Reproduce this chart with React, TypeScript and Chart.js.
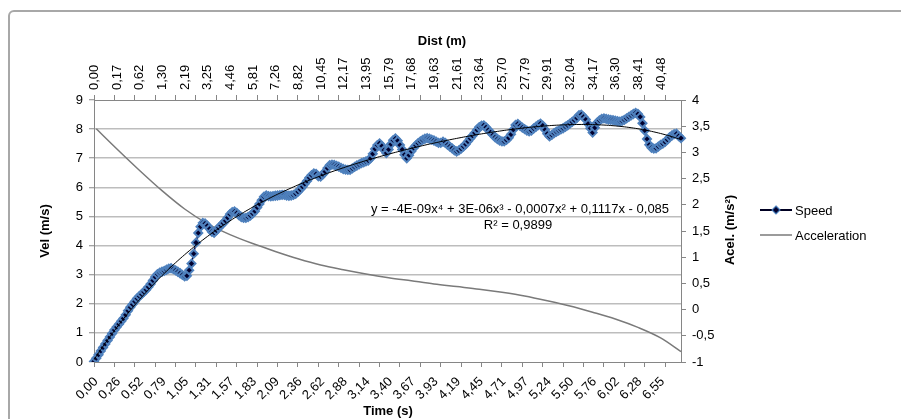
import React, { useEffect, useRef } from 'react';
import { Chart, registerables } from 'chart.js';

Chart.register(...registerables);

// ---- Data ----
const timeTicks = ['0,00','0,26','0,52','0,79','1,05','1,31','1,57','1,83','2,09','2,36','2,62','2,88','3,14','3,40','3,67','3,93','4,19','4,45','4,71','4,97','5,24','5,50','5,76','6,02','6,28','6,55'];
const distTicks = ['0,00','0,17','0,62','1,30','2,19','3,25','4,46','5,81','7,26','8,82','10,45','12,17','13,95','15,79','17,68','19,63','21,61','23,64','25,70','27,79','29,91','32,04','34,17','36,30','38,41','40,48'];

const speed = [
  0.02, 0.13, 0.25, 0.38, 0.5, 0.62, 0.74, 0.86, 0.98, 1.1,
  1.2, 1.3, 1.4, 1.5, 1.62, 1.76, 1.88, 1.98, 2.08, 2.18,
  2.26, 2.33, 2.41, 2.48, 2.58, 2.68, 2.8, 2.92, 3.02, 3.07,
  3.1, 3.13, 3.17, 3.21, 3.22, 3.19, 3.15, 3.1, 3.05, 2.99,
  2.94, 2.96, 3.15, 3.38, 3.72, 4.1, 4.43, 4.65, 4.78, 4.76,
  4.68, 4.58, 4.47, 4.44, 4.52, 4.61, 4.69, 4.77, 4.85, 4.96,
  5.08, 5.15, 5.17, 5.12, 5.04, 4.98, 4.95, 4.95, 4.98, 5.03,
  5.1, 5.18, 5.31, 5.43, 5.56, 5.68, 5.72, 5.7, 5.69, 5.7,
  5.71, 5.72, 5.73, 5.74, 5.74, 5.72, 5.71, 5.72, 5.74, 5.78,
  5.85, 5.93, 6.02, 6.12, 6.22, 6.33, 6.42, 6.48, 6.46, 6.38,
  6.37, 6.45, 6.54, 6.66, 6.76, 6.78, 6.77, 6.74, 6.71, 6.67,
  6.63, 6.61, 6.6, 6.6, 6.65, 6.7, 6.75, 6.79, 6.83, 6.86,
  6.89, 6.92, 7.0, 7.15, 7.32, 7.45, 7.51, 7.42, 7.28, 7.18,
  7.3, 7.48, 7.62, 7.68, 7.6, 7.45, 7.3, 7.12, 7.0, 7.1,
  7.24, 7.35, 7.44, 7.52, 7.58, 7.63, 7.67, 7.69, 7.67, 7.64,
  7.61, 7.57, 7.53, 7.53, 7.57, 7.53, 7.46, 7.4, 7.34, 7.27,
  7.23, 7.27, 7.33, 7.4, 7.48, 7.58, 7.68, 7.77, 7.87, 7.97,
  8.07, 8.12, 8.13, 8.06, 7.97, 7.89, 7.8, 7.72, 7.66, 7.61,
  7.58, 7.58, 7.63, 7.7, 7.82, 7.98, 8.14, 8.18, 8.11, 8.05,
  8.0, 7.95, 7.92, 7.95, 8.02, 8.08, 8.14, 8.19, 8.12, 7.98,
  7.84, 7.75, 7.8, 7.86, 7.91, 7.95, 7.99, 8.03, 8.08, 8.13,
  8.19, 8.25, 8.31, 8.38, 8.48, 8.5, 8.42, 8.33, 8.18, 8.03,
  7.88, 8.05, 8.22, 8.3, 8.35, 8.37, 8.35, 8.33, 8.32, 8.31,
  8.29, 8.27, 8.26, 8.28, 8.32, 8.37, 8.42, 8.47, 8.52, 8.56,
  8.52, 8.42, 8.2, 7.95, 7.66, 7.46, 7.36, 7.33, 7.34, 7.4,
  7.46, 7.5, 7.56, 7.64, 7.72, 7.78, 7.83, 7.84, 7.76, 7.69,
];

const accelIndex = [1, 10, 20, 30, 40, 50, 60, 70, 80, 90, 100, 110, 120, 130, 140, 150, 160, 170, 180, 190, 200, 210, 220, 230, 240, 250, 259];
const accelValues = [3.45, 3.07, 2.66, 2.27, 1.92, 1.64, 1.43, 1.26, 1.11, 0.97, 0.85, 0.76, 0.68, 0.61, 0.55, 0.49, 0.44, 0.39, 0.33, 0.26, 0.17, 0.07, -0.05, -0.18, -0.34, -0.54, -0.80];

const equationText = 'y = -4E-09x\u2074 + 3E-06x\u00B3 - 0,0007x\u00B2 + 0,1117x - 0,085';
const r2Text = 'R\u00B2 = 0,9899';

const FONT = '"Liberation Sans", Arial, Helvetica, sans-serif';
const AXIS_COLOR = '#868686';
const GRID_COLOR = '#bdbdbd';

// Least-squares polynomial trendline (like the spreadsheet's), x = 1..N
function polyTrend(ys: number[], degree: number): number[] {
  const n = ys.length;
  const m = degree + 1;
  const A: number[][] = Array.from({ length: m }, () => new Array(m + 1).fill(0));
  for (let j = 0; j < n; j++) {
    const x = (j + 1) / n;
    const pw = [1];
    for (let k = 1; k < 2 * m; k++) pw.push(pw[k - 1] * x);
    for (let r = 0; r < m; r++) {
      for (let c = 0; c < m; c++) A[r][c] += pw[r + c];
      A[r][m] += ys[j] * pw[r];
    }
  }
  for (let col = 0; col < m; col++) {
    let piv = col;
    for (let r = col + 1; r < m; r++) if (Math.abs(A[r][col]) > Math.abs(A[piv][col])) piv = r;
    const tmp = A[col]; A[col] = A[piv]; A[piv] = tmp;
    for (let r = 0; r < m; r++) {
      if (r === col) continue;
      const f = A[r][col] / A[col][col];
      for (let c = col; c <= m; c++) A[r][c] -= f * A[col][c];
    }
  }
  const coef = A.map((row, r) => row[m] / row[r]);
  return ys.map((_, j) => {
    const x = (j + 1) / n;
    let y = 0, p = 1;
    for (let k = 0; k < m; k++) { y += coef[k] * p; p *= x; }
    return y;
  });
}

const categories = speed.map((_, i) => String(i));

const overlayPlugin = {
  id: 'overlay',
  afterDraw(chart: any) {
    const ctx = chart.ctx as CanvasRenderingContext2D;
    ctx.save();
    ctx.fillStyle = '#000';
    ctx.textBaseline = 'middle';
    ctx.textAlign = 'center';
    ctx.font = `bold 13px ${FONT}`;
    ctx.fillText('Dist (m)', 442, 41);
    ctx.fillText('Time (s)', 388, 411);
    ctx.save();
    ctx.translate(45, 231);
    ctx.rotate(-Math.PI / 2);
    ctx.fillText('Vel (m/s)', 0, 0);
    ctx.restore();
    ctx.save();
    ctx.translate(730, 230);
    ctx.rotate(-Math.PI / 2);
    ctx.fillText('Acel. (m/s\u00B2)', 0, 0);
    ctx.restore();

    // trendline equation
    ctx.font = `13px ${FONT}`;
    ctx.fillText(equationText, 520, 209);
    ctx.fillText(r2Text, 518, 225);

    // legend
    ctx.textAlign = 'left';
    ctx.strokeStyle = '#000022';
    ctx.lineWidth = 2;
    ctx.beginPath();
    ctx.moveTo(760, 210);
    ctx.lineTo(792, 210);
    ctx.stroke();
    ctx.beginPath();
    ctx.moveTo(776, 206);
    ctx.lineTo(780, 210);
    ctx.lineTo(776, 214);
    ctx.lineTo(772, 210);
    ctx.closePath();
    ctx.fillStyle = '#00002e';
    ctx.fill();
    ctx.strokeStyle = '#4a7ebb';
    ctx.lineWidth = 1.2;
    ctx.stroke();
    ctx.fillStyle = '#000';
    ctx.fillText('Speed', 795, 211);

    ctx.strokeStyle = '#7a7a7a';
    ctx.lineWidth = 1.5;
    ctx.beginPath();
    ctx.moveTo(760, 235);
    ctx.lineTo(792, 235);
    ctx.stroke();
    ctx.fillText('Acceleration', 795, 236);
    ctx.restore();
  },
};

export default function App() {
  const canvasRef = useRef<HTMLCanvasElement | null>(null);

  useEffect(() => {
    const canvas = canvasRef.current;
    if (!canvas) return;
    Chart.defaults.font.family = FONT;
    Chart.defaults.font.size = 13;
    Chart.defaults.color = '#000';

    const trend = polyTrend(speed, 4);
    const accelData = accelIndex.map((idx, k) => ({ x: String(idx), y: accelValues[k] }));
    const fmt = (v: number | string) => String(v).replace('.', ',');

    const chart = new Chart(canvas, {
      type: 'line',
      data: {
        labels: categories,
        datasets: [
          {
            label: 'Trend',
            data: trend,
            borderColor: '#000000',
            borderWidth: 1,
            pointRadius: 0,
            yAxisID: 'y',
            xAxisID: 'x',
            order: 0,
          },
          {
            label: 'Speed',
            data: speed,
            borderColor: '#00003a',
            borderWidth: 1.5,
            pointStyle: 'rectRot',
            pointRadius: 4,
            pointBorderWidth: 2,
            pointBackgroundColor: '#00002e',
            pointBorderColor: '#4f81bd',
            yAxisID: 'y',
            xAxisID: 'x',
            order: 1,
          },
          {
            label: 'Acceleration',
            data: accelData as any,
            borderColor: '#7a7a7a',
            borderWidth: 1.5,
            pointRadius: 0,
            cubicInterpolationMode: 'monotone',
            yAxisID: 'y1',
            xAxisID: 'x',
            order: 2,
          },
        ],
      },
      options: {
        responsive: false,
        animation: false,
        events: [],
        layout: { padding: 0 },
        plugins: {
          legend: { display: false },
          title: { display: false },
          tooltip: { enabled: false },
        },
        scales: {
          x: {
            type: 'category',
            position: 'bottom',
            offset: false,
            afterFit: (s: any) => { s.height = 57; },
            grid: {
              drawOnChartArea: false,
              drawTicks: true,
              tickLength: 5,
              tickColor: (c: any) => (c.index % 9 === 0 ? AXIS_COLOR : 'rgba(0,0,0,0)'),
            },
            border: { display: true, color: AXIS_COLOR, width: 1 },
            ticks: {
              autoSkip: false,
              minRotation: 45,
              maxRotation: 45,
              padding: 7,
              labelOffset: 2,
              font: { size: 13 },
              callback: (_v: any, i: number) => (i % 10 === 0 ? timeTicks[i / 10] ?? '' : ''),
            },
          },
          x2: {
            type: 'category',
            position: 'top',
            labels: categories,
            offset: false,
            afterFit: (s: any) => { s.height = 100; },
            grid: {
              drawOnChartArea: false,
              drawTicks: true,
              tickLength: 5,
              tickColor: (c: any) => (c.index % 9 === 0 ? AXIS_COLOR : 'rgba(0,0,0,0)'),
            },
            border: { display: true, color: AXIS_COLOR, width: 1 },
            ticks: {
              autoSkip: false,
              minRotation: 90,
              maxRotation: 90,
              padding: 5,
              labelOffset: 16,
              font: { size: 13 },
              callback: (_v: any, i: number) => (i % 10 === 0 ? distTicks[i / 10] ?? '' : ''),
            },
          },
          y: {
            type: 'linear',
            position: 'left',
            min: 0,
            max: 9,
            afterFit: (s: any) => { s.width = 94; },
            grid: {
              color: (c: any) => (c.tick && (c.tick.value === 0 || c.tick.value === 9) ? 'rgba(0,0,0,0)' : GRID_COLOR),
              lineWidth: 1.5,
              drawTicks: true,
              tickLength: 5,
              tickColor: AXIS_COLOR,
              tickWidth: 1,
            },
            border: { display: true, color: AXIS_COLOR, width: 1 },
            ticks: { stepSize: 1, padding: 6, font: { size: 13 }, callback: (v: any) => fmt(v) },
          },
          y1: {
            type: 'linear',
            position: 'right',
            min: -1,
            max: 4,
            afterFit: (s: any) => { s.width = 220; },
            grid: {
              drawOnChartArea: false,
              drawTicks: true,
              tickLength: 5,
              tickColor: AXIS_COLOR,
            },
            border: { display: true, color: AXIS_COLOR, width: 1 },
            ticks: { stepSize: 0.5, padding: 6, font: { size: 13 }, callback: (v: any) => fmt(v) },
          },
        },
      },
      plugins: [overlayPlugin],
    });

    return () => chart.destroy();
  }, []);

  return (
    <div style={{ position: 'fixed', left: 0, top: 0, width: 901, height: 419, overflow: 'hidden', background: '#fff' }}>
      <div
        style={{
          position: 'absolute',
          left: 8,
          top: 10,
          width: 1200,
          height: 800,
          border: '2px solid #a8a8a8',
          borderRadius: 6,
          boxSizing: 'border-box',
        }}
      />
      <canvas ref={canvasRef} width={901} height={419} style={{ position: 'absolute', left: 0, top: 0, width: 901, height: 419 }} />
    </div>
  );
}
